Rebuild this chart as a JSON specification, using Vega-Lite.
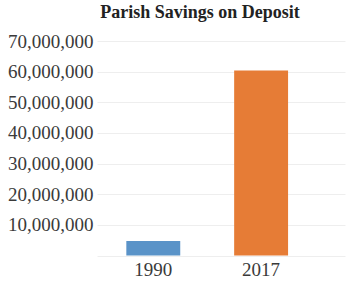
{
  "$schema": "https://vega.github.io/schema/vega-lite/v6.json",
  "width": 248,
  "height": 214.5,
  "autosize": "none",
  "padding": {"left": 97, "top": 41, "right": 3, "bottom": 26.5},
  "title": {
    "text": "Parish Savings on Deposit",
    "font": "Liberation Serif",
    "fontSize": 18,
    "fontWeight": "bold",
    "color": "#222",
    "anchor": "middle",
    "frame": "group",
    "dx": -21,
    "offset": 10
  },
  "data": {
    "values": [
      {"year": "1990", "savings": 4700000},
      {"year": "2017", "savings": 60400000}
    ]
  },
  "mark": {"type": "bar"},
  "encoding": {
    "x": {
      "field": "year",
      "type": "nominal",
      "scale": {"paddingInner": 0.5, "paddingOuter": 0.4, "align": 0.34},
      "axis": {
        "title": null,
        "labelAngle": 0,
        "labelFont": "Liberation Serif",
        "labelFontSize": 19,
        "labelColor": "#3a3a3a",
        "labelPadding": 5,
        "ticks": false,
        "domain": false,
        "grid": false
      }
    },
    "y": {
      "field": "savings",
      "type": "quantitative",
      "scale": {"domain": [0, 70000000], "nice": false},
      "axis": {
        "title": null,
        "values": [0, 10000000, 20000000, 30000000, 40000000, 50000000, 60000000, 70000000],
        "format": ",d",
        "labelExpr": "datum.value == 0 ? '' : datum.label",
        "labelFont": "Liberation Serif",
        "labelFontSize": 19,
        "labelColor": "#3a3a3a",
        "labelPadding": 4,
        "ticks": false,
        "domain": false,
        "grid": true,
        "gridColor": "#eeeeee",
        "gridWidth": 1
      }
    },
    "color": {
      "field": "year",
      "type": "nominal",
      "scale": {"domain": ["1990", "2017"], "range": ["#5a93c8", "#e67c36"]},
      "legend": null
    }
  },
  "config": {"view": {"stroke": null}}
}
